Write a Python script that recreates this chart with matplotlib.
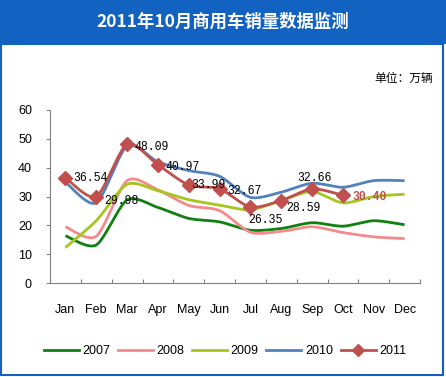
import numpy as np
import matplotlib
matplotlib.use("Agg")
import matplotlib.pyplot as plt
from matplotlib.patches import Rectangle
from matplotlib.lines import Line2D

plt.rcParams['font.family'] = ['Liberation Sans', 'Noto Sans CJK SC', 'DejaVu Sans']

months = ["Jan", "Feb", "Mar", "Apr", "May", "Jun", "Jul", "Aug", "Sep", "Oct", "Nov", "Dec"]
s2007 = [16.4, 13.2, 28.8, 26.2, 22.4, 21.2, 18.3, 18.9, 20.9, 19.7, 21.6, 20.2]
s2008 = [19.5, 16.2, 35.5, 32.3, 26.9, 25.1, 17.6, 17.9, 19.5, 17.5, 16.0, 15.4]
s2009 = [12.3, 21.6, 34.2, 32.0, 28.9, 27.0, 25.4, 28.6, 31.7, 27.8, 30.0, 30.8]
s2010 = [35.0, 27.8, 47.5, 42.0, 39.0, 37.0, 29.7, 31.5, 34.6, 33.2, 35.5, 35.5]
s2011 = [36.54, 29.98, 48.09, 40.97, 33.99, 32.67, 26.35, 28.59, 32.66, 30.40]
yticks = [0, 10, 20, 30, 40, 50, 60]

title = "2011年10月商用车销量数据监测"
unit = "单位：万辆"


def smooth(y, n=20, k=0.8):
    # smoothed rendering of the line through the data points (Excel-style smoothing)
    y = np.asarray(y, float)
    x = np.arange(len(y), dtype=float)
    P = np.concatenate([[y[0]], y, [y[-1]]])
    X = np.concatenate([[x[0]], x, [x[-1]]])
    xs, ys = [], []
    for i in range(1, len(P) - 2):
        t = np.linspace(0, 1, n, endpoint=False)
        for arr, out in ((X, xs), (P, ys)):
            p0, p1, p2, p3 = arr[i - 1], arr[i], arr[i + 1], arr[i + 2]
            c1 = p1 + k * (p2 - p0) / 6
            c2 = p2 - k * (p3 - p1) / 6
            out.extend((1 - t) ** 3 * p1 + 3 * (1 - t) ** 2 * t * c1 + 3 * (1 - t) * t ** 2 * c2 + t ** 3 * p2)
    xs.append(x[-1]); ys.append(y[-1])
    return np.array(xs), np.array(ys)


fig = plt.figure(figsize=(4.46, 3.77), dpi=100)
fig.patch.set_facecolor("white")

# header band and border
fig.add_artist(Rectangle((0, 1 - 44 / 377), 1, 44 / 377, transform=fig.transFigure,
                         facecolor="#1262c2", edgecolor="none", zorder=0))
fig.add_artist(Rectangle((1 / 446, 2 / 377), 442 / 446, 1 - 44 / 377 - 2 / 377, transform=fig.transFigure,
                         facecolor="none", edgecolor="#1262c2", lw=1.5, zorder=5))
fig.text(0.5, 1 - 22 / 377, title, color="white", fontsize=12.5, fontweight="bold",
         ha="center", va="center", family=['Noto Sans CJK SC', 'DejaVu Sans'])
fig.text(433 / 446, 1 - 78 / 377, unit, color="black", fontsize=8.5,
         ha="right", va="center", family=['Noto Sans CJK SC', 'DejaVu Sans'])

ax = fig.add_axes([50 / 446, 1 - 283 / 377, 370 / 446, 173 / 377])
x = np.arange(len(months))
colors = {"2007": "#118011", "2008": "#f28c8c", "2009": "#a8c41e", "2010": "#5381be", "2011": "#c0504d"}
for name, s in (("2007", s2007), ("2008", s2008), ("2009", s2009), ("2010", s2010)):
    sx, sy = smooth(s)
    ax.plot(sx, sy, color=colors[name], lw=2, solid_capstyle="butt")
sx, sy = smooth(s2011)
ax.plot(sx, sy, color=colors["2011"], lw=2)
ax.plot(x[:len(s2011)], s2011, ls="none", marker="D", ms=7, color=colors["2011"])

mono = "Liberation Mono"
# offsets in pixels: (dx of left edge, dy of text centre)
offs = [(8, 0), (8, -4), (7, -3), (8, -2), (3, 0), (8, -2), (-2, -13), (5, -7), (-15, 11), (10, -2)]
for i, v in enumerate(s2011):
    dx, dy = offs[i]
    last = i == len(s2011) - 1
    ax.annotate(f"{v:.2f}", (x[i], v), xytext=(dx, dy), textcoords="offset pixels",
                ha="left", va="center", fontsize=8.3, family=mono,
                color=colors["2011"] if last else "black",
                fontweight="bold" if last else "normal", zorder=6)

ax.set_xlim(-0.5, len(months) - 0.5)
ax.set_ylim(0, 60)
ax.set_yticks(yticks)
ax.set_xticks(np.arange(-0.5, len(months)), labels=[""] * (len(months) + 1))
ax.set_xticks(x, labels=months, minor=True)
ax.tick_params(axis="x", which="major", direction="in", length=3, color="#808080")
ax.tick_params(axis="x", which="minor", length=0, pad=15, labelsize=9)
ax.tick_params(axis="y", direction="out", length=3, color="#808080", pad=10, labelsize=9)
for sp in ("top", "right"):
    ax.spines[sp].set_visible(False)
for sp in ("left", "bottom"):
    ax.spines[sp].set_color("#808080")

handles = [Line2D([], [], color=colors[n], lw=2) for n in ("2007", "2008", "2009", "2010")]
handles.append(Line2D([], [], color=colors["2011"], lw=2, marker="D", ms=6))
fig.legend(handles, ["2007", "2008", "2009", "2010", "2011"], loc="center",
           bbox_to_anchor=(225 / 446, 1 - 351 / 377), ncol=5, frameon=False,
           fontsize=9, handlelength=2.8, handletextpad=0.3, columnspacing=0.6)

fig.savefig("out.png", dpi=100, facecolor="white")
